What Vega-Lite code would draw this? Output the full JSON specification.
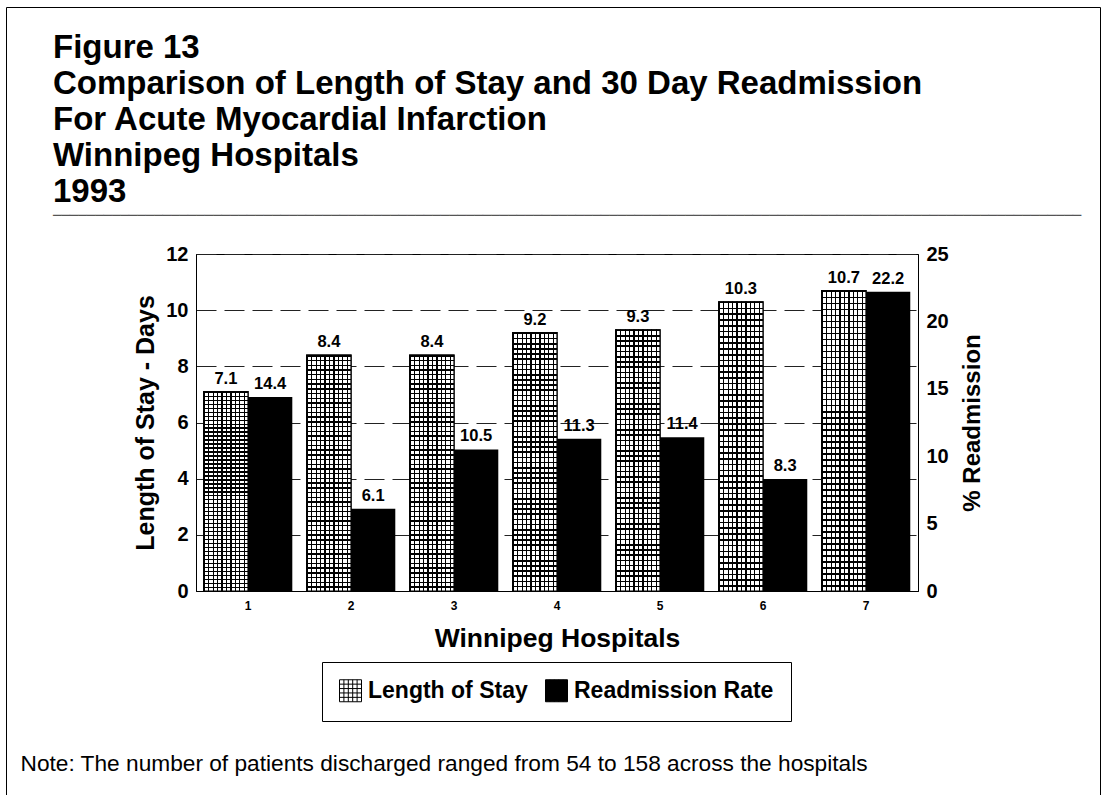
{
  "$schema": "https://vega.github.io/schema/vega-lite/v6.json",
  "autosize": {"type": "none"},
  "width": 722,
  "height": 337,
  "padding": {"left": 196, "top": 254, "right": 184, "bottom": 204},
  "background": "white",
  "title": {
    "text": ["Figure 13", "Comparison of Length of Stay and 30 Day Readmission", "For Acute Myocardial Infarction", "Winnipeg Hospitals", "1993"],
    "subtitle": "──────────────────────────────────────────────────────────────────────────────────────────────────────────────────────────",
    "anchor": "start",
    "frame": "group",
    "dx": -143,
    "offset": -216,
    "font": "Liberation Sans",
    "fontSize": 33,
    "fontWeight": "bold",
    "lineHeight": 36,
    "color": "black",
    "subtitleFont": "DejaVu Sans Mono",
    "subtitleFontSize": 14,
    "subtitleColor": "#555555",
    "subtitlePadding": 0
  },
  "config": {
    "font": "Liberation Sans",
    "view": {"stroke": "black", "strokeWidth": 1}
  },
  "data": {
    "values": [
      {"hospital": "1", "series": "Length of Stay", "value": 7.1},
      {"hospital": "2", "series": "Length of Stay", "value": 8.4},
      {"hospital": "3", "series": "Length of Stay", "value": 8.4},
      {"hospital": "4", "series": "Length of Stay", "value": 9.2},
      {"hospital": "5", "series": "Length of Stay", "value": 9.3},
      {"hospital": "6", "series": "Length of Stay", "value": 10.3},
      {"hospital": "7", "series": "Length of Stay", "value": 10.7},
      {"hospital": "1", "series": "Readmission Rate", "value": 14.4},
      {"hospital": "2", "series": "Readmission Rate", "value": 6.1},
      {"hospital": "3", "series": "Readmission Rate", "value": 10.5},
      {"hospital": "4", "series": "Readmission Rate", "value": 11.3},
      {"hospital": "5", "series": "Readmission Rate", "value": 11.4},
      {"hospital": "6", "series": "Readmission Rate", "value": 8.3},
      {"hospital": "7", "series": "Readmission Rate", "value": 22.2}
    ]
  },
  "layer": [
    {
      "transform": [{"filter": "datum.series === 'Length of Stay'"}],
      "encoding": {
        "x": {
          "field": "hospital", "type": "ordinal",
          "scale": {"paddingInner": 0.14, "paddingOuter": 0.075},
          "axis": {
            "labelAngle": 0, "labelFontSize": 12, "labelFontWeight": "bold", "labelColor": "black", "labelPadding": 9,
            "ticks": false, "domainColor": "black", "domainWidth": 1, "grid": false,
            "title": "Winnipeg Hospitals", "titleFontSize": 26.5, "titleFontWeight": "bold", "titleColor": "black", "titlePadding": 14
          }
        },
        "xOffset": {"field": "series", "type": "nominal", "scale": {"domain": ["Length of Stay", "Readmission Rate"], "paddingInner": 0}},
        "y": {
          "field": "value", "type": "quantitative",
          "scale": {"domain": [0, 12], "nice": false},
          "axis": {
            "values": [0, 2, 4, 6, 8, 10, 12], "grid": true, "gridColor": "#222222", "gridDash": [20, 8], "gridWidth": 1,
            "ticks": false, "domainColor": "black", "domainWidth": 1,
            "labelFontSize": 20, "labelFontWeight": "bold", "labelColor": "black", "labelPadding": 8,
            "title": "Length of Stay - Days", "titleFontSize": 25, "titleFontWeight": "bold", "titleColor": "black", "titlePadding": 7
          }
        }
      },
      "layer": [
        {
          "mark": {"type": "bar", "stroke": "black", "strokeWidth": 1.2},
          "encoding": {
            "color": {
              "field": "series", "type": "nominal",
              "scale": {"domain": ["Length of Stay", "Readmission Rate"], "range": ["white", "black"]},
              "legend": {
                "orient": "none", "legendX": 126, "legendY": 408, "direction": "horizontal", "title": null,
                "strokeColor": "black", "padding": 17, "fillColor": "white",
                "labelFont": "Liberation Sans", "labelFontSize": 23, "labelFontWeight": "bold", "labelColor": "black", "labelLimit": 0,
                "labelOffset": 6, "columnPadding": 15, "symbolSize": 484, "symbolStrokeColor": "black", "symbolStrokeWidth": 1,
                "symbolType": "M-1,-1H1V1H-1Z M-0.6,-1V1 M-0.2,-1V1 M0.2,-1V1 M0.6,-1V1 M-1,-0.6H1 M-1,-0.2H1 M-1,0.2H1 M-1,0.6H1",
                "symbolOpacity": 1,
                "encode": {"symbols": {"update": {"stroke": {"value": "black"}, "strokeWidth": {"value": 1}}}}
              }
            }
          }
        },
        {
          "mark": {
            "type": "bar",
            "fill": {
              "gradient": "linear", "x1": 0, "x2": 1, "y1": 0, "y2": 0,
              "stops": [
                {"offset": 0, "color": "black"}, {"offset": 0.03, "color": "black"}, {"offset": 0.03, "color": "white"}, {"offset": 0.1, "color": "white"},
                {"offset": 0.1, "color": "black"}, {"offset": 0.13, "color": "black"}, {"offset": 0.13, "color": "white"}, {"offset": 0.2, "color": "white"},
                {"offset": 0.2, "color": "black"}, {"offset": 0.23, "color": "black"}, {"offset": 0.23, "color": "white"}, {"offset": 0.3, "color": "white"},
                {"offset": 0.3, "color": "black"}, {"offset": 0.33, "color": "black"}, {"offset": 0.33, "color": "white"}, {"offset": 0.4, "color": "white"},
                {"offset": 0.4, "color": "black"}, {"offset": 0.43, "color": "black"}, {"offset": 0.43, "color": "white"}, {"offset": 0.5, "color": "white"},
                {"offset": 0.5, "color": "black"}, {"offset": 0.53, "color": "black"}, {"offset": 0.53, "color": "white"}, {"offset": 0.6, "color": "white"},
                {"offset": 0.6, "color": "black"}, {"offset": 0.63, "color": "black"}, {"offset": 0.63, "color": "white"}, {"offset": 0.7, "color": "white"},
                {"offset": 0.7, "color": "black"}, {"offset": 0.73, "color": "black"}, {"offset": 0.73, "color": "white"}, {"offset": 0.8, "color": "white"},
                {"offset": 0.8, "color": "black"}, {"offset": 0.83, "color": "black"}, {"offset": 0.83, "color": "white"}, {"offset": 0.9, "color": "white"},
                {"offset": 0.9, "color": "black"}, {"offset": 0.93, "color": "black"}, {"offset": 0.93, "color": "white"}, {"offset": 1, "color": "white"}
              ]
            }
          }
        },
        {
          "mark": {
            "type": "bar",
            "stroke": "black",
            "strokeWidth": 1.2,
            "fill": {
              "gradient": "linear", "x1": 0, "x2": 0, "y1": 0, "y2": 1,
              "stops": [
                {"offset": 0, "color": "black"}, {"offset": 0.006, "color": "black"}, {"offset": 0.006, "color": "transparent"}, {"offset": 0.02, "color": "transparent"},
                {"offset": 0.02, "color": "black"}, {"offset": 0.026, "color": "black"}, {"offset": 0.026, "color": "transparent"}, {"offset": 0.04, "color": "transparent"},
                {"offset": 0.04, "color": "black"}, {"offset": 0.046, "color": "black"}, {"offset": 0.046, "color": "transparent"}, {"offset": 0.06, "color": "transparent"},
                {"offset": 0.06, "color": "black"}, {"offset": 0.066, "color": "black"}, {"offset": 0.066, "color": "transparent"}, {"offset": 0.08, "color": "transparent"},
                {"offset": 0.08, "color": "black"}, {"offset": 0.086, "color": "black"}, {"offset": 0.086, "color": "transparent"}, {"offset": 0.1, "color": "transparent"},
                {"offset": 0.1, "color": "black"}, {"offset": 0.106, "color": "black"}, {"offset": 0.106, "color": "transparent"}, {"offset": 0.12, "color": "transparent"},
                {"offset": 0.12, "color": "black"}, {"offset": 0.126, "color": "black"}, {"offset": 0.126, "color": "transparent"}, {"offset": 0.14, "color": "transparent"},
                {"offset": 0.14, "color": "black"}, {"offset": 0.146, "color": "black"}, {"offset": 0.146, "color": "transparent"}, {"offset": 0.16, "color": "transparent"},
                {"offset": 0.16, "color": "black"}, {"offset": 0.166, "color": "black"}, {"offset": 0.166, "color": "transparent"}, {"offset": 0.18, "color": "transparent"},
                {"offset": 0.18, "color": "black"}, {"offset": 0.186, "color": "black"}, {"offset": 0.186, "color": "transparent"}, {"offset": 0.2, "color": "transparent"},
                {"offset": 0.2, "color": "black"}, {"offset": 0.206, "color": "black"}, {"offset": 0.206, "color": "transparent"}, {"offset": 0.22, "color": "transparent"},
                {"offset": 0.22, "color": "black"}, {"offset": 0.226, "color": "black"}, {"offset": 0.226, "color": "transparent"}, {"offset": 0.24, "color": "transparent"},
                {"offset": 0.24, "color": "black"}, {"offset": 0.246, "color": "black"}, {"offset": 0.246, "color": "transparent"}, {"offset": 0.26, "color": "transparent"},
                {"offset": 0.26, "color": "black"}, {"offset": 0.266, "color": "black"}, {"offset": 0.266, "color": "transparent"}, {"offset": 0.28, "color": "transparent"},
                {"offset": 0.28, "color": "black"}, {"offset": 0.286, "color": "black"}, {"offset": 0.286, "color": "transparent"}, {"offset": 0.3, "color": "transparent"},
                {"offset": 0.3, "color": "black"}, {"offset": 0.306, "color": "black"}, {"offset": 0.306, "color": "transparent"}, {"offset": 0.32, "color": "transparent"},
                {"offset": 0.32, "color": "black"}, {"offset": 0.326, "color": "black"}, {"offset": 0.326, "color": "transparent"}, {"offset": 0.34, "color": "transparent"},
                {"offset": 0.34, "color": "black"}, {"offset": 0.346, "color": "black"}, {"offset": 0.346, "color": "transparent"}, {"offset": 0.36, "color": "transparent"},
                {"offset": 0.36, "color": "black"}, {"offset": 0.366, "color": "black"}, {"offset": 0.366, "color": "transparent"}, {"offset": 0.38, "color": "transparent"},
                {"offset": 0.38, "color": "black"}, {"offset": 0.386, "color": "black"}, {"offset": 0.386, "color": "transparent"}, {"offset": 0.4, "color": "transparent"},
                {"offset": 0.4, "color": "black"}, {"offset": 0.406, "color": "black"}, {"offset": 0.406, "color": "transparent"}, {"offset": 0.42, "color": "transparent"},
                {"offset": 0.42, "color": "black"}, {"offset": 0.426, "color": "black"}, {"offset": 0.426, "color": "transparent"}, {"offset": 0.44, "color": "transparent"},
                {"offset": 0.44, "color": "black"}, {"offset": 0.446, "color": "black"}, {"offset": 0.446, "color": "transparent"}, {"offset": 0.46, "color": "transparent"},
                {"offset": 0.46, "color": "black"}, {"offset": 0.466, "color": "black"}, {"offset": 0.466, "color": "transparent"}, {"offset": 0.48, "color": "transparent"},
                {"offset": 0.48, "color": "black"}, {"offset": 0.486, "color": "black"}, {"offset": 0.486, "color": "transparent"}, {"offset": 0.5, "color": "transparent"},
                {"offset": 0.5, "color": "black"}, {"offset": 0.506, "color": "black"}, {"offset": 0.506, "color": "transparent"}, {"offset": 0.52, "color": "transparent"},
                {"offset": 0.52, "color": "black"}, {"offset": 0.526, "color": "black"}, {"offset": 0.526, "color": "transparent"}, {"offset": 0.54, "color": "transparent"},
                {"offset": 0.54, "color": "black"}, {"offset": 0.546, "color": "black"}, {"offset": 0.546, "color": "transparent"}, {"offset": 0.56, "color": "transparent"},
                {"offset": 0.56, "color": "black"}, {"offset": 0.566, "color": "black"}, {"offset": 0.566, "color": "transparent"}, {"offset": 0.58, "color": "transparent"},
                {"offset": 0.58, "color": "black"}, {"offset": 0.586, "color": "black"}, {"offset": 0.586, "color": "transparent"}, {"offset": 0.6, "color": "transparent"},
                {"offset": 0.6, "color": "black"}, {"offset": 0.606, "color": "black"}, {"offset": 0.606, "color": "transparent"}, {"offset": 0.62, "color": "transparent"},
                {"offset": 0.62, "color": "black"}, {"offset": 0.626, "color": "black"}, {"offset": 0.626, "color": "transparent"}, {"offset": 0.64, "color": "transparent"},
                {"offset": 0.64, "color": "black"}, {"offset": 0.646, "color": "black"}, {"offset": 0.646, "color": "transparent"}, {"offset": 0.66, "color": "transparent"},
                {"offset": 0.66, "color": "black"}, {"offset": 0.666, "color": "black"}, {"offset": 0.666, "color": "transparent"}, {"offset": 0.68, "color": "transparent"},
                {"offset": 0.68, "color": "black"}, {"offset": 0.686, "color": "black"}, {"offset": 0.686, "color": "transparent"}, {"offset": 0.7, "color": "transparent"},
                {"offset": 0.7, "color": "black"}, {"offset": 0.706, "color": "black"}, {"offset": 0.706, "color": "transparent"}, {"offset": 0.72, "color": "transparent"},
                {"offset": 0.72, "color": "black"}, {"offset": 0.726, "color": "black"}, {"offset": 0.726, "color": "transparent"}, {"offset": 0.74, "color": "transparent"},
                {"offset": 0.74, "color": "black"}, {"offset": 0.746, "color": "black"}, {"offset": 0.746, "color": "transparent"}, {"offset": 0.76, "color": "transparent"},
                {"offset": 0.76, "color": "black"}, {"offset": 0.766, "color": "black"}, {"offset": 0.766, "color": "transparent"}, {"offset": 0.78, "color": "transparent"},
                {"offset": 0.78, "color": "black"}, {"offset": 0.786, "color": "black"}, {"offset": 0.786, "color": "transparent"}, {"offset": 0.8, "color": "transparent"},
                {"offset": 0.8, "color": "black"}, {"offset": 0.806, "color": "black"}, {"offset": 0.806, "color": "transparent"}, {"offset": 0.82, "color": "transparent"},
                {"offset": 0.82, "color": "black"}, {"offset": 0.826, "color": "black"}, {"offset": 0.826, "color": "transparent"}, {"offset": 0.84, "color": "transparent"},
                {"offset": 0.84, "color": "black"}, {"offset": 0.846, "color": "black"}, {"offset": 0.846, "color": "transparent"}, {"offset": 0.86, "color": "transparent"},
                {"offset": 0.86, "color": "black"}, {"offset": 0.866, "color": "black"}, {"offset": 0.866, "color": "transparent"}, {"offset": 0.88, "color": "transparent"},
                {"offset": 0.88, "color": "black"}, {"offset": 0.886, "color": "black"}, {"offset": 0.886, "color": "transparent"}, {"offset": 0.9, "color": "transparent"},
                {"offset": 0.9, "color": "black"}, {"offset": 0.906, "color": "black"}, {"offset": 0.906, "color": "transparent"}, {"offset": 0.92, "color": "transparent"},
                {"offset": 0.92, "color": "black"}, {"offset": 0.926, "color": "black"}, {"offset": 0.926, "color": "transparent"}, {"offset": 0.94, "color": "transparent"},
                {"offset": 0.94, "color": "black"}, {"offset": 0.946, "color": "black"}, {"offset": 0.946, "color": "transparent"}, {"offset": 0.96, "color": "transparent"},
                {"offset": 0.96, "color": "black"}, {"offset": 0.966, "color": "black"}, {"offset": 0.966, "color": "transparent"}, {"offset": 0.98, "color": "transparent"},
                {"offset": 0.98, "color": "black"}, {"offset": 0.986, "color": "black"}, {"offset": 0.986, "color": "transparent"}, {"offset": 1, "color": "transparent"}
              ]
            }
          }
        },
        {
          "mark": {"type": "text", "baseline": "alphabetic", "dy": -8, "fontSize": 16.5, "fontWeight": "bold", "color": "black"},
          "encoding": {"text": {"field": "value", "type": "quantitative", "format": ".1f"}}
        }
      ]
    },
    {
      "transform": [{"filter": "datum.series === 'Readmission Rate'"}],
      "encoding": {
        "x": {
          "field": "hospital", "type": "ordinal",
          "axis": {
            "orient": "bottom", "labels": false, "ticks": false, "domain": false, "grid": false,
            "title": "Note:  The number of patients discharged ranged from 54 to 158 across the hospitals",
            "titleFontSize": 22.7, "titleFontWeight": "normal", "titleColor": "black",
            "titleX": -176, "titleY": 179, "titleAlign": "left", "titleAnchor": "start", "titleBaseline": "alphabetic"
          }
        },
        "xOffset": {"field": "series", "type": "nominal"},
        "y": {
          "field": "value", "type": "quantitative",
          "scale": {"domain": [0, 25], "nice": false},
          "axis": {
            "orient": "right", "values": [0, 5, 10, 15, 20, 25], "grid": false, "ticks": false,
            "domainColor": "black", "domainWidth": 1,
            "labelFontSize": 20, "labelFontWeight": "bold", "labelColor": "black", "labelPadding": 8,
            "title": "% Readmission", "titleAngle": 270, "titleBaseline": "top", "titleFontSize": 24, "titleFontWeight": "bold", "titleColor": "black", "titlePadding": 12
          }
        }
      },
      "layer": [
        {
          "mark": {"type": "bar"},
          "encoding": {
            "color": {"field": "series", "type": "nominal"},
            "opacity": {
              "datum": "page", "type": "ordinal",
              "scale": {"range": [1]},
              "legend": {
                "orient": "none", "legendX": -190, "legendY": -247, "title": null,
                "strokeColor": "black", "padding": 393,
                "symbolType": "M-1,0H1", "symbolSize": 94864, "symbolOpacity": 0, "symbolStrokeWidth": 0,
                "labelOpacity": 0, "labelExpr": "''", "labelFontSize": 1, "labelOffset": 0,
                "encode": {"legend": {"update": {"strokeWidth": {"value": 2}, "strokeDash": {"value": [1094, 2188, 1300]}}}}
              }
            }
          }
        },
        {
          "mark": {"type": "text", "baseline": "alphabetic", "dy": -8, "fontSize": 16.5, "fontWeight": "bold", "color": "black"},
          "encoding": {"text": {"field": "value", "type": "quantitative", "format": ".1f"}}
        }
      ]
    }
  ],
  "resolve": {"scale": {"y": "independent"}, "axis": {"x": "independent"}}
}
